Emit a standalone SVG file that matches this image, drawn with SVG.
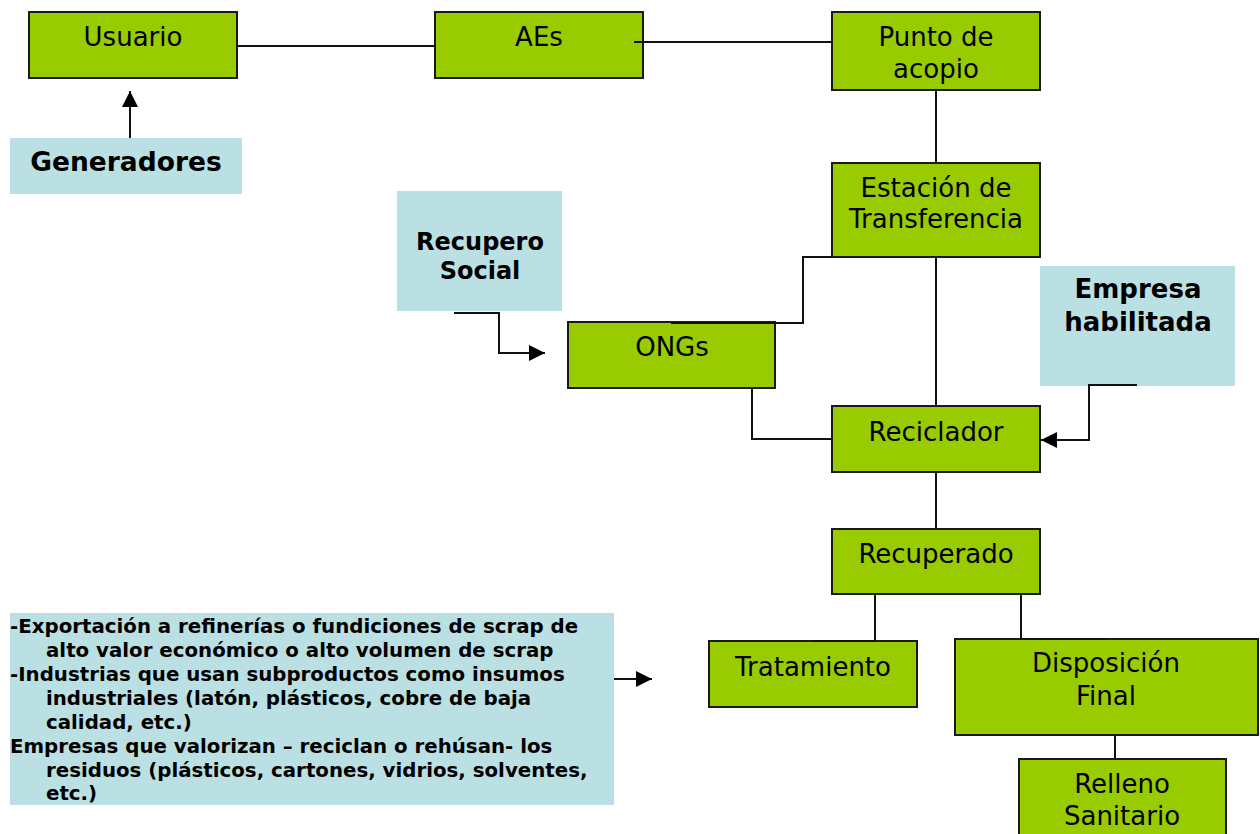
<svg xmlns="http://www.w3.org/2000/svg" width="1260" height="834" viewBox="0 0 1260 834">
<style>
.g{fill:#99CC00;stroke:#1a1a1a;stroke-width:2}
.b{fill:#BBE0E3;stroke:none}
.t{font-family:"DejaVu Sans",Verdana,sans-serif;font-size:26px;fill:#000;text-anchor:middle}
.tb{font-family:"DejaVu Sans",Verdana,sans-serif;font-weight:bold;fill:#000;text-anchor:middle}
.tl{font-family:"DejaVu Sans",Verdana,sans-serif;font-weight:bold;font-size:19.8px;fill:#000}
.c{fill:none;stroke:#111;stroke-width:2}
</style>
<defs>
<marker id="ah2" viewBox="0 0 10 10" refX="10" refY="5" markerWidth="16" markerHeight="16" markerUnits="userSpaceOnUse" orient="auto">
<path d="M0,0 L10,5 L0,10 Z" fill="#000"/>
</marker>
</defs>
<g id="usuario"><rect class="g" x="29" y="12" width="208" height="66"/><text class="t" x="133" y="46">Usuario</text></g>
<g id="aes"><rect class="g" x="435" y="12" width="208" height="66"/><text class="t" x="539" y="46">AEs</text></g>
<g id="punto"><rect class="g" x="832" y="12" width="208" height="78"/><text class="t" x="936" y="46">Punto de</text><text class="t" x="936" y="78">acopio</text></g>
<g id="estacion"><rect class="g" x="832" y="163" width="208" height="94"/><text class="t" x="936" y="197">Estación de</text><text class="t" x="936" y="228">Transferencia</text></g>
<g id="generadores"><rect class="b" x="10" y="138" width="232" height="56"/><text class="tb" x="126" y="171" font-size="26.5">Generadores</text></g>
<g id="recupero"><rect class="b" x="397" y="191" width="165" height="120"/><text class="tb" x="480" y="250" font-size="24">Recupero</text><text class="tb" x="480" y="279" font-size="24">Social</text></g>
<g id="ongs"><rect class="g" x="568" y="322" width="207" height="66"/><text class="t" x="672" y="356">ONGs</text></g>
<g id="empresa"><rect class="b" x="1040" y="266" width="195" height="120"/><text class="tb" x="1138" y="298" font-size="26">Empresa</text><text class="tb" x="1138" y="331" font-size="26">habilitada</text></g>
<g id="reciclador"><rect class="g" x="832" y="406" width="208" height="66"/><text class="t" x="936" y="441">Reciclador</text></g>
<g id="recuperado"><rect class="g" x="832" y="529" width="208" height="65"/><text class="t" x="936" y="563">Recuperado</text></g>
<g id="tratamiento"><rect class="g" x="709" y="641" width="208" height="66"/><text class="t" x="813" y="676">Tratamiento</text></g>
<g id="disposicion"><rect class="g" x="955" y="639" width="303" height="96"/><text class="t" x="1106" y="672">Disposición</text><text class="t" x="1106" y="705">Final</text></g>
<g id="relleno"><rect class="g" x="1019" y="759" width="207" height="90"/><text class="t" x="1122" y="793">Relleno</text><text class="t" x="1122" y="825">Sanitario</text></g>
<g id="destinos">
<rect class="b" x="10" y="613" width="604" height="192"/>
<text class="tl" x="10" y="633">-Exportación a refinerías o fundiciones de scrap de</text>
<text class="tl" x="46" y="657">alto valor económico o alto volumen de scrap</text>
<text class="tl" x="10" y="681">-Industrias que usan subproductos como insumos</text>
<text class="tl" x="46" y="705">industriales (latón, plásticos, cobre de baja</text>
<text class="tl" x="46" y="729">calidad, etc.)</text>
<text class="tl" x="10" y="753">Empresas que valorizan – reciclan o rehúsan- los</text>
<text class="tl" x="46" y="777">residuos (plásticos, cartones, vidrios, solventes,</text>
<text class="tl" x="46" y="800">etc.)</text>
</g>
<g id="connectors">
<path class="c" d="M237,46 H435"/>
<path class="c" d="M634,42 H832"/>
<path class="c" d="M936,90 V163"/>
<path class="c" d="M936,257 V406"/>
<path class="c" d="M832,257 H803 V323 H671"/>
<path class="c" d="M752,388 V439 H832"/>
<path class="c" d="M936,472 V529"/>
<path class="c" d="M875,594 V641 H814"/>
<path class="c" d="M1021,594 V639 H1106"/>
<path class="c" d="M1115,735 V759"/>
<path class="c" d="M130,138 V91" marker-end="url(#ah2)"/>
<path class="c" d="M454,313 H499 V353 H545" marker-end="url(#ah2)"/>
<path class="c" d="M1137,385 H1089 V440 H1041" marker-end="url(#ah2)"/>
<path class="c" d="M614,679 H652" marker-end="url(#ah2)"/>
</g>
</svg>
